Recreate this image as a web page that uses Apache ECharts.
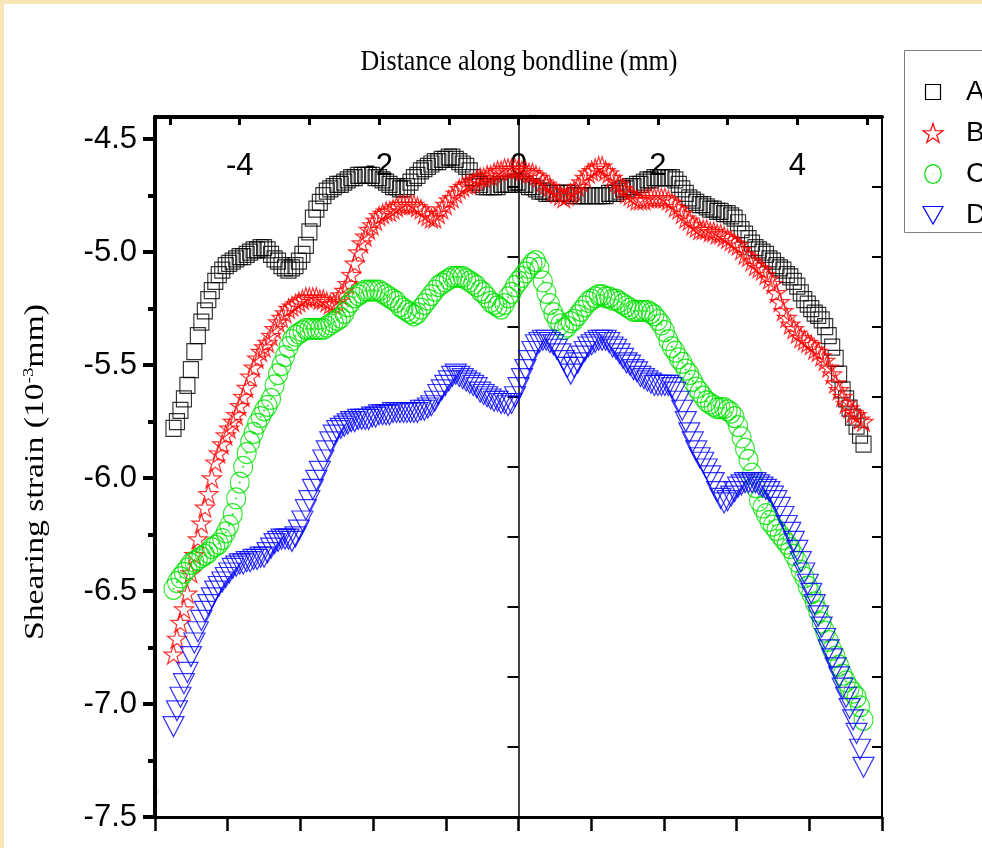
<!DOCTYPE html>
<html><head><meta charset="utf-8">
<script src="https://cdn.jsdelivr.net/npm/echarts@6/dist/echarts.min.js"></script>
<style>html,body{margin:0;padding:0;background:#fff}#c{width:982px;height:848px}</style>
</head><body><div id="c"></div>
<script>
// Distance along bondline (mm) – sample positions
const xs = [
-4.95,-4.90,-4.85,-4.80,-4.75,-4.70,-4.65,-4.60,-4.55,-4.50,
-4.45,-4.40,-4.35,-4.30,-4.25,-4.20,-4.15,-4.10,-4.05,-4.00,
-3.95,-3.90,-3.85,-3.80,-3.75,-3.70,-3.65,-3.60,-3.55,-3.50,
-3.45,-3.40,-3.35,-3.30,-3.25,-3.20,-3.15,-3.10,-3.05,-3.00,
-2.95,-2.90,-2.85,-2.80,-2.75,-2.70,-2.65,-2.60,-2.55,-2.50,
-2.45,-2.40,-2.35,-2.30,-2.25,-2.20,-2.15,-2.10,-2.05,-2.00,
-1.95,-1.90,-1.85,-1.80,-1.75,-1.70,-1.65,-1.60,-1.55,-1.50,
-1.45,-1.40,-1.35,-1.30,-1.25,-1.20,-1.15,-1.10,-1.05,-1.00,
-0.95,-0.90,-0.85,-0.80,-0.75,-0.70,-0.65,-0.60,-0.55,-0.50,
-0.45,-0.40,-0.35,-0.30,-0.25,-0.20,-0.15,-0.10,-0.05,0.00,
0.05,0.10,0.15,0.20,0.25,0.30,0.35,0.40,0.45,0.50,
0.55,0.60,0.65,0.70,0.75,0.80,0.85,0.90,0.95,1.00,
1.05,1.10,1.15,1.20,1.25,1.30,1.35,1.40,1.45,1.50,
1.55,1.60,1.65,1.70,1.75,1.80,1.85,1.90,1.95,2.00,
2.05,2.10,2.15,2.20,2.25,2.30,2.35,2.40,2.45,2.50,
2.55,2.60,2.65,2.70,2.75,2.80,2.85,2.90,2.95,3.00,
3.05,3.10,3.15,3.20,3.25,3.30,3.35,3.40,3.45,3.50,
3.55,3.60,3.65,3.70,3.75,3.80,3.85,3.90,3.95,4.00,
4.05,4.10,4.15,4.20,4.25,4.30,4.35,4.40,4.45,4.50,
4.55,4.60,4.65,4.70,4.75,4.80,4.85,4.90,4.95];

// Shearing strain (10^-3 mm)
const seriesA = [
-5.78,-5.75,-5.70,-5.65,-5.59,-5.52,-5.44,-5.37,-5.31,-5.26,
-5.21,-5.17,-5.13,-5.10,-5.08,-5.06,-5.05,-5.04,-5.03,-5.02,
-5.02,-5.01,-5.00,-4.99,-4.99,-4.98,-4.98,-4.99,-5.01,-5.03,
-5.04,-5.06,-5.07,-5.08,-5.07,-5.06,-5.04,-5.01,-4.97,-4.91,
-4.85,-4.81,-4.78,-4.75,-4.73,-4.72,-4.71,-4.70,-4.70,-4.69,
-4.68,-4.67,-4.67,-4.66,-4.66,-4.66,-4.66,-4.66,-4.67,-4.67,
-4.68,-4.69,-4.70,-4.71,-4.71,-4.72,-4.72,-4.71,-4.69,-4.67,
-4.66,-4.64,-4.63,-4.62,-4.61,-4.60,-4.60,-4.59,-4.59,-4.58,
-4.58,-4.59,-4.60,-4.61,-4.62,-4.64,-4.67,-4.69,-4.70,-4.71,
-4.71,-4.71,-4.71,-4.71,-4.70,-4.70,-4.70,-4.70,-4.69,-4.69,
-4.70,-4.70,-4.71,-4.71,-4.72,-4.73,-4.73,-4.74,-4.74,-4.74,
-4.74,-4.74,-4.74,-4.74,-4.74,-4.75,-4.75,-4.75,-4.75,-4.75,
-4.75,-4.75,-4.75,-4.75,-4.75,-4.74,-4.74,-4.74,-4.73,-4.72,
-4.72,-4.71,-4.71,-4.70,-4.70,-4.69,-4.68,-4.68,-4.67,-4.67,
-4.67,-4.67,-4.67,-4.67,-4.68,-4.70,-4.72,-4.74,-4.76,-4.77,
-4.78,-4.79,-4.79,-4.80,-4.81,-4.81,-4.82,-4.82,-4.83,-4.83,
-4.84,-4.85,-4.87,-4.90,-4.92,-4.94,-4.96,-4.98,-4.99,-5.00,
-5.01,-5.03,-5.04,-5.06,-5.07,-5.08,-5.10,-5.11,-5.13,-5.15,
-5.18,-5.21,-5.23,-5.25,-5.27,-5.28,-5.30,-5.33,-5.37,-5.42,
-5.47,-5.54,-5.61,-5.65,-5.69,-5.73,-5.77,-5.81,-5.85];

const seriesB = [
-6.78,-6.71,-6.64,-6.58,-6.51,-6.42,-6.34,-6.27,-6.20,-6.13,
-6.07,-6.00,-5.93,-5.89,-5.85,-5.81,-5.78,-5.75,-5.72,-5.68,
-5.64,-5.60,-5.55,-5.51,-5.47,-5.44,-5.42,-5.40,-5.37,-5.34,
-5.31,-5.29,-5.27,-5.25,-5.24,-5.23,-5.22,-5.21,-5.20,-5.20,
-5.20,-5.20,-5.21,-5.21,-5.22,-5.23,-5.23,-5.22,-5.19,-5.17,
-5.14,-5.10,-5.05,-5.00,-4.96,-4.93,-4.90,-4.88,-4.86,-4.84,
-4.83,-4.82,-4.82,-4.81,-4.80,-4.79,-4.79,-4.79,-4.79,-4.79,
-4.80,-4.81,-4.83,-4.84,-4.85,-4.85,-4.83,-4.81,-4.79,-4.77,
-4.76,-4.74,-4.72,-4.71,-4.70,-4.70,-4.69,-4.68,-4.67,-4.67,
-4.66,-4.66,-4.65,-4.64,-4.64,-4.63,-4.63,-4.63,-4.63,-4.63,
-4.64,-4.64,-4.65,-4.65,-4.66,-4.67,-4.69,-4.70,-4.71,-4.73,
-4.74,-4.75,-4.76,-4.75,-4.74,-4.73,-4.71,-4.69,-4.67,-4.65,
-4.64,-4.63,-4.62,-4.62,-4.64,-4.65,-4.67,-4.69,-4.70,-4.72,
-4.74,-4.75,-4.76,-4.77,-4.77,-4.77,-4.76,-4.76,-4.76,-4.76,
-4.76,-4.76,-4.77,-4.78,-4.80,-4.81,-4.83,-4.85,-4.86,-4.88,
-4.89,-4.90,-4.90,-4.90,-4.91,-4.91,-4.92,-4.92,-4.93,-4.94,
-4.95,-4.96,-4.97,-4.99,-5.01,-5.02,-5.04,-5.06,-5.07,-5.08,
-5.10,-5.12,-5.14,-5.18,-5.22,-5.26,-5.29,-5.32,-5.34,-5.36,
-5.38,-5.39,-5.40,-5.41,-5.43,-5.44,-5.46,-5.48,-5.51,-5.54,
-5.58,-5.61,-5.64,-5.67,-5.69,-5.71,-5.72,-5.74,-5.75];

const seriesC = [
-6.49,-6.46,-6.44,-6.42,-6.40,-6.38,-6.37,-6.36,-6.35,-6.34,
-6.33,-6.31,-6.30,-6.29,-6.27,-6.24,-6.21,-6.16,-6.09,-6.02,
-5.95,-5.89,-5.84,-5.80,-5.76,-5.73,-5.70,-5.68,-5.65,-5.59,
-5.54,-5.50,-5.46,-5.42,-5.39,-5.37,-5.36,-5.35,-5.34,-5.34,
-5.34,-5.34,-5.34,-5.34,-5.33,-5.32,-5.31,-5.30,-5.29,-5.27,
-5.24,-5.22,-5.20,-5.19,-5.18,-5.17,-5.17,-5.17,-5.17,-5.17,
-5.18,-5.19,-5.20,-5.21,-5.22,-5.24,-5.25,-5.26,-5.27,-5.28,
-5.27,-5.25,-5.23,-5.21,-5.19,-5.17,-5.15,-5.14,-5.13,-5.12,
-5.11,-5.11,-5.11,-5.11,-5.12,-5.13,-5.14,-5.15,-5.17,-5.18,
-5.20,-5.22,-5.23,-5.24,-5.25,-5.23,-5.20,-5.18,-5.15,-5.13,
-5.11,-5.09,-5.07,-5.05,-5.04,-5.07,-5.13,-5.18,-5.23,-5.27,
-5.30,-5.32,-5.34,-5.33,-5.31,-5.30,-5.28,-5.26,-5.24,-5.22,
-5.21,-5.20,-5.19,-5.19,-5.20,-5.20,-5.21,-5.21,-5.22,-5.23,
-5.24,-5.25,-5.26,-5.26,-5.26,-5.26,-5.26,-5.27,-5.28,-5.30,
-5.32,-5.35,-5.39,-5.42,-5.44,-5.47,-5.49,-5.52,-5.54,-5.57,
-5.60,-5.62,-5.64,-5.66,-5.67,-5.68,-5.69,-5.69,-5.69,-5.70,
-5.71,-5.73,-5.77,-5.82,-5.87,-5.92,-5.98,-6.04,-6.10,-6.13,
-6.16,-6.19,-6.21,-6.23,-6.25,-6.27,-6.29,-6.31,-6.34,-6.37,
-6.41,-6.44,-6.48,-6.51,-6.55,-6.59,-6.64,-6.68,-6.72,-6.76,
-6.79,-6.83,-6.87,-6.90,-6.93,-6.95,-6.97,-7.01,-7.07];

const seriesD = [
-7.10,-7.03,-6.97,-6.91,-6.86,-6.79,-6.73,-6.68,-6.63,-6.59,
-6.56,-6.53,-6.50,-6.48,-6.46,-6.44,-6.42,-6.40,-6.39,-6.38,
-6.38,-6.37,-6.37,-6.36,-6.36,-6.35,-6.35,-6.33,-6.31,-6.29,
-6.28,-6.27,-6.27,-6.27,-6.28,-6.26,-6.23,-6.19,-6.14,-6.10,
-6.05,-6.01,-5.97,-5.92,-5.88,-5.84,-5.81,-5.79,-5.78,-5.77,
-5.76,-5.75,-5.75,-5.74,-5.74,-5.74,-5.74,-5.73,-5.73,-5.72,
-5.72,-5.72,-5.72,-5.71,-5.71,-5.71,-5.71,-5.71,-5.71,-5.71,
-5.71,-5.70,-5.70,-5.69,-5.68,-5.66,-5.63,-5.61,-5.59,-5.57,
-5.55,-5.54,-5.55,-5.56,-5.57,-5.58,-5.59,-5.60,-5.62,-5.63,
-5.64,-5.65,-5.66,-5.66,-5.67,-5.67,-5.68,-5.67,-5.64,-5.60,
-5.56,-5.52,-5.48,-5.44,-5.41,-5.40,-5.39,-5.39,-5.40,-5.41,
-5.43,-5.45,-5.48,-5.51,-5.54,-5.51,-5.49,-5.46,-5.44,-5.42,
-5.41,-5.40,-5.39,-5.39,-5.39,-5.40,-5.42,-5.43,-5.45,-5.47,
-5.49,-5.50,-5.52,-5.53,-5.55,-5.56,-5.57,-5.58,-5.59,-5.59,
-5.59,-5.59,-5.59,-5.60,-5.62,-5.66,-5.70,-5.75,-5.80,-5.84,
-5.88,-5.91,-5.93,-5.96,-5.99,-6.02,-6.06,-6.09,-6.11,-6.10,
-6.08,-6.06,-6.04,-6.03,-6.02,-6.02,-6.02,-6.02,-6.03,-6.04,
-6.05,-6.06,-6.08,-6.10,-6.13,-6.17,-6.21,-6.24,-6.28,-6.32,
-6.37,-6.42,-6.47,-6.51,-6.56,-6.61,-6.66,-6.71,-6.76,-6.80,
-6.84,-6.88,-6.93,-6.97,-7.02,-7.07,-7.13,-7.20,-7.28];

const seriesNames = ['A','B','C','D'];
const xTickValues = [-5,-4,-3,-2,-1,0,1,2,3,4,5];
const xLabelValues = [-4,-2,0,2,4];
const yLabelValues = [-7.5,-7,-6.5,-6,-5.5,-5,-4.5];
const yMinorValues = [-7.25,-6.75,-6.25,-5.75,-5.25,-4.75];

const pair = vals => xs.map((x,i)=>[x, vals[i]]);
const SQUARE_D = 'M0,0L10,0L10,10L0,10Z';
const STAR_PTS = [[50,0],[61.2,34.6],[97.6,34.5],[68.1,55.9],[79.4,90.5],[50,69],[20.6,90.5],[31.9,55.9],[2.4,34.5],[38.8,34.6]];
const STAR_D = 'M' + STAR_PTS.map(p=>p.join(',')).join('L') + 'Z';
const CIRC_D = 'M0,-10A10,10 0 1,1 0,10A10,10 0 1,1 0,-10Z M0,-0.5A0.5,0.5 0 1,1 0,0.5A0.5,0.5 0 1,1 0,-0.5Z';
const TRI_D = 'M0,0L20,0L10,17.3Z';
const SANS = 'Liberation Sans';
const SERIF = 'Liberation Serif';
const colors = ['#000000','#ff0000','#00e000','#0000ff'];
const symbolPaths = [SQUARE_D, STAR_D, CIRC_D, TRI_D];
const symbolSizes = [[15,16],[19,19],[19,21],[21,20]];
const gridRect = {left:155, top:117, width:727, height:700};
const X0 = -5.215, X1 = 5.215, Y0 = -7.5, Y1 = -4.402;
const dataSets = [seriesA, seriesB, seriesC, seriesD];

// legend box (it runs off the right edge in the reference)
const LX = 933, LY0 = 92, LSTEP = 41;
const lineSt = c => ({fill:'none', stroke:c, lineWidth:1.2});
const legendGraphic = [
  {type:'rect', z:50, silent:true, shape:{x:904.5, y:50.5, width:120, height:182}, style:{fill:'#ffffff', stroke:'#808080', lineWidth:1}},
  {type:'rect', z:51, silent:true, shape:{x:LX-7.5, y:LY0-7.5, width:15, height:15}, style:lineSt(colors[0])},
  {type:'polygon', z:51, silent:true, shape:{points:STAR_PTS.map(p=>[LX+(p[0]-50)*0.21, LY0+LSTEP+(p[1]-45.25)*0.21])}, style:lineSt(colors[1])},
  {type:'circle', z:51, silent:true, x:LX, y:LY0+2*LSTEP, scaleY:1.15, shape:{cx:0, cy:0, r:8.2}, style:lineSt(colors[2])},
  {type:'circle', z:51, silent:true, shape:{cx:LX, cy:LY0+2*LSTEP, r:0.6}, style:{fill:colors[2]}},
  {type:'polygon', z:51, silent:true, shape:{points:[[LX-10,LY0+3*LSTEP-8.5],[LX+10,LY0+3*LSTEP-8.5],[LX,LY0+3*LSTEP+9]]}, style:lineSt(colors[3])}
];
seriesNames.forEach((nm,i)=>{
  legendGraphic.push({type:'text', z:51, silent:true, x:966, y:LY0 + LSTEP*i,
    style:{text:nm, fontFamily:SANS, fontSize:28, fill:'#000', align:'left', verticalAlign:'middle'}});
});

const chart = echarts.init(document.getElementById('c'), null, {renderer:'canvas'});
chart.setOption({
  animation:false,
  backgroundColor:'#f8e7b6',
  graphic:[
    {type:'rect', z:-100, silent:true, shape:{x:4, y:4, width:980, height:846}, style:{fill:'#ffffff'}},
    {type:'text', x:519, y:62, scaleY:1.15, style:{text:'Distance along bondline (mm)', fontFamily:SERIF, fontSize:26, fill:'#000', align:'center', verticalAlign:'middle'}},
    {type:'text', x:36, y:472, rotation:Math.PI/2, scaleX:1.25, style:{text:'Shearing strain (10{sup|-3}mm)', fontFamily:SERIF, fontSize:27, fill:'#000', align:'center', verticalAlign:'middle',
      rich:{sup:{fontFamily:SERIF, fontSize:15, fill:'#000', padding:[0,0,14,0]}}}},
    {type:'text', x:533, y:117, style:{text:'10', fontFamily:SANS, fontSize:8, fill:'#c8c8c8', align:'center', verticalAlign:'middle'}},
    {type:'text', x:157, y:792, style:{text:'0', fontFamily:SANS, fontSize:8, fill:'#c8c8c8', align:'center', verticalAlign:'middle'}}
  ].concat(legendGraphic),
  grid:[Object.assign({},gridRect),Object.assign({},gridRect),Object.assign({},gridRect),Object.assign({},gridRect)],
  xAxis:[
    {gridIndex:0, type:'value', position:'top', min:X0, max:X1,
     axisLine:{onZero:false, lineStyle:{color:'#000', width:4}},
     axisTick:{show:true, inside:true, length:8, customValues:xTickValues, lineStyle:{color:'#000', width:3}},
     axisLabel:{inside:true, customValues:xLabelValues, fontFamily:SANS, fontSize:31, color:'#000', margin:34},
     splitLine:{show:false}},
    {gridIndex:1, type:'value', position:'bottom', min:0, max:10, interval:1,
     axisLine:{onZero:false, lineStyle:{color:'#000', width:3}},
     axisTick:{length:14, lineStyle:{color:'#000', width:2.5}},
     axisLabel:{show:false}, splitLine:{show:false}},
    {gridIndex:2, type:'value', show:false, min:0, max:1, axisLine:{onZero:false}, splitLine:{show:false}},
    {gridIndex:3, type:'value', show:false, min:X0, max:X1, axisLine:{onZero:false}, splitLine:{show:false}}
  ],
  yAxis:[
    {gridIndex:0, type:'value', position:'left', min:Y0, max:Y1,
     axisLine:{onZero:false, lineStyle:{color:'#000', width:4}},
     axisTick:{show:true, length:12, customValues:yLabelValues, lineStyle:{color:'#000', width:4}},
     axisLabel:{customValues:yLabelValues, formatter:v=>v.toFixed(1), fontFamily:SANS, fontSize:31, color:'#000', margin:18},
     splitLine:{show:false}},
    {gridIndex:1, type:'value', position:'left', min:Y0, max:Y1,
     axisLine:{show:false, onZero:false},
     axisTick:{show:true, length:7, customValues:yMinorValues, lineStyle:{color:'#000', width:4}},
     axisLabel:{show:false}, splitLine:{show:false}},
    {gridIndex:2, type:'value', position:'right', min:0, max:10, interval:1,
     axisLine:{show:true, onZero:false, lineStyle:{color:'#000', width:2}},
     axisTick:{show:true, inside:true, length:10, lineStyle:{color:'#000', width:2}},
     axisLabel:{show:false}, splitLine:{show:false}},
    {gridIndex:3, type:'value', position:'left', min:0, max:10, interval:1,
     axisLine:{show:true, onZero:true, onZeroAxisIndex:3, lineStyle:{color:'#000', width:1.5}},
     axisTick:{show:true, length:11, lineStyle:{color:'#000', width:2}},
     axisLabel:{show:false}, splitLine:{show:false}}
  ],
  series: seriesNames.map((nm,i)=>({
    type:'scatter', name:nm, xAxisIndex:0, yAxisIndex:0, data:pair(dataSets[i]),
    symbol:'path://' + symbolPaths[i], symbolSize:symbolSizes[i],
    itemStyle:{color:'rgba(0,0,0,0)', borderColor:colors[i], borderWidth:1.2}
  }))
});
</script>
</body></html>
